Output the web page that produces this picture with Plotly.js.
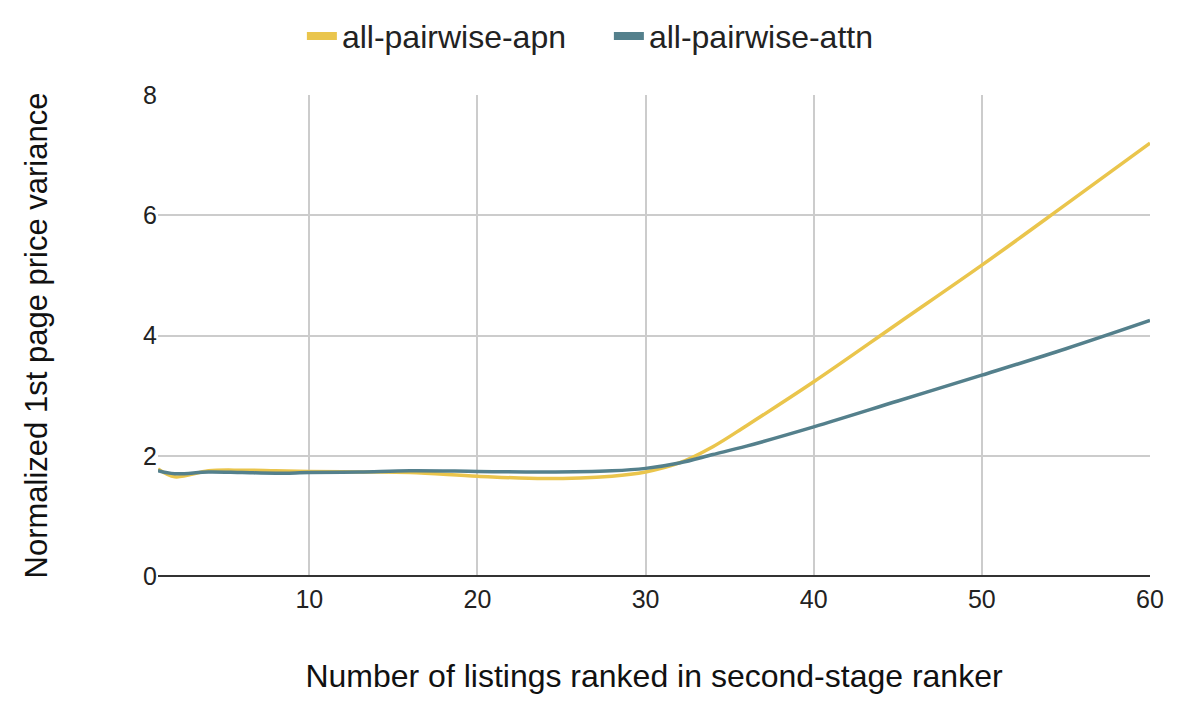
<!DOCTYPE html>
<html>
<head>
<meta charset="utf-8">
<script src="https://cdn.plot.ly/plotly-3.0.1.min.js"></script>
<style>
  html, body { margin: 0; padding: 0; background: #ffffff; }
  #chart { width: 1180px; height: 716px; }
</style>
</head>
<body>
<div id="chart"></div>
<script>
// Number of listings ranked in second-stage ranker
const listings = [1, 2, 4, 6, 8, 10, 13, 16, 20, 24, 28, 30, 32, 34, 36, 40, 45, 50, 55, 60];
// all-pairwise-apn
const apnVariance = [1.78, 1.65, 1.75, 1.76, 1.75, 1.74, 1.73, 1.72, 1.66, 1.62, 1.66, 1.73, 1.88, 2.15, 2.5, 3.23, 4.2, 5.17, 6.18, 7.2];
// all-pairwise-attn
const attnVariance = [1.75, 1.70, 1.73, 1.72, 1.71, 1.72, 1.73, 1.75, 1.74, 1.73, 1.75, 1.79, 1.88, 2.02, 2.16, 2.48, 2.91, 3.34, 3.78, 4.25];

const seriesNames = ['all-pairwise-apn', 'all-pairwise-attn'];
const seriesColors = ['#EAC54C', '#54808C'];
const xTickVals = [10, 20, 30, 40, 50, 60];
const yTickVals = [0, 2, 4, 6, 8];

const FONT = '"Liberation Sans", Arial, sans-serif';

const seriesValues = [apnVariance, attnVariance];
const traces = [];
seriesValues.forEach((vals, i) => {
  traces.push({
    x: listings, y: vals, name: seriesNames[i], legendgroup: seriesNames[i],
    type: 'scatter', mode: 'lines', showlegend: false,
    line: { color: seriesColors[i], width: 3.5, shape: 'spline', smoothing: 1 }
  });
});
// legend swatches (thick short bars as in the reference)
seriesNames.forEach((nm, i) => {
  traces.push({
    x: [null], y: [null], name: nm, legendgroup: nm,
    type: 'scatter', mode: 'lines', showlegend: true,
    line: { color: seriesColors[i], width: 8 }
  });
});

const layout = {
  width: 1180, height: 716,
  paper_bgcolor: '#ffffff', plot_bgcolor: '#ffffff',
  margin: { l: 158, r: 30, t: 95, b: 140 },
  font: { family: FONT, color: '#222222' },
  showlegend: true,
  legend: {
    orientation: 'h',
    xref: 'container', yref: 'container',
    x: 0.516, xanchor: 'center',
    y: 0.988, yanchor: 'top',
    font: { family: FONT, size: 32, color: '#222222' },
    itemwidth: 30,
    entrywidth: 262,
    traceorder: 'normal'
  },
  xaxis: {
    range: [1, 60],
    tickvals: xTickVals,
    ticktext: xTickVals.map(String),
    showgrid: true, gridcolor: '#cccccc', gridwidth: 2,
    zeroline: false, showline: false,
    ticks: '', ticklen: 0,
    ticklabelstandoff: 6,
    tickfont: { family: FONT, size: 25, color: '#222222' },
    title: { text: 'Number of listings ranked in second-stage ranker', font: { family: FONT, size: 32, color: '#111111' }, standoff: 52 }
  },
  yaxis: {
    range: [0, 8],
    tickvals: yTickVals,
    ticktext: yTickVals.map(String),
    showgrid: true, gridcolor: '#cccccc', gridwidth: 2,
    zeroline: true, zerolinecolor: '#333333', zerolinewidth: 2,
    showline: false,
    ticks: '', ticklen: 0,
    tickfont: { family: FONT, size: 25, color: '#222222' },
    title: { text: 'Normalized 1st page price variance', font: { family: FONT, size: 31, color: '#111111' }, standoff: 86 }
  }
};

Plotly.newPlot('chart', traces, layout, { displayModeBar: false, staticPlot: true });
</script>
</body>
</html>
